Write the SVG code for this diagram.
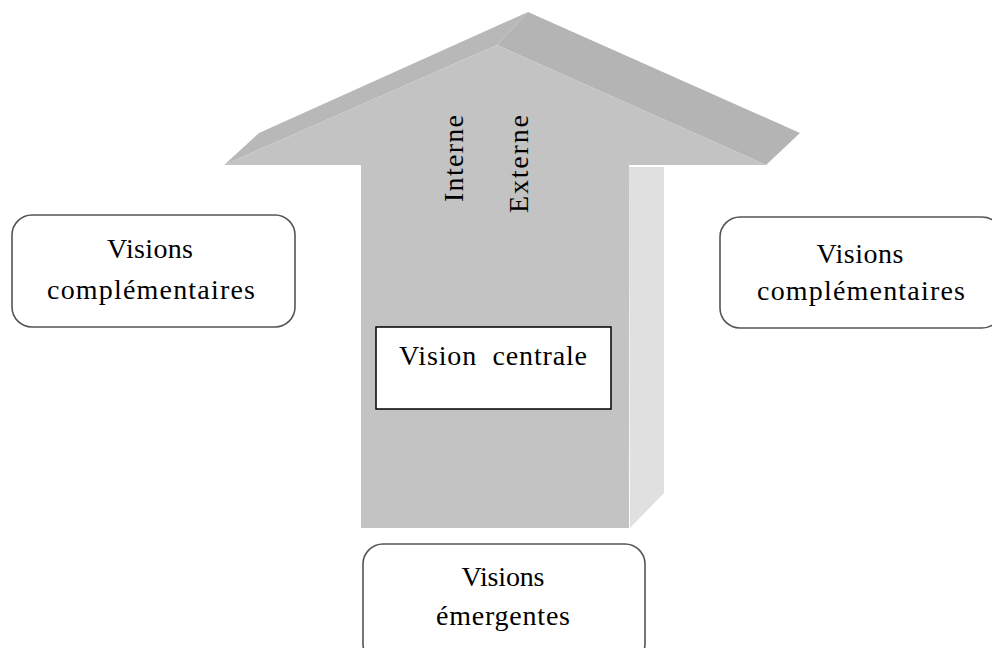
<svg xmlns="http://www.w3.org/2000/svg" width="992" height="648" viewBox="0 0 992 648">
<style>
  text { font-family: "Liberation Serif", "Times New Roman", serif; font-size: 28px; fill: #000; }
  .c { text-anchor: middle; }
  .box { fill: #fff; stroke: #555; stroke-width: 1.6; }
  .front { fill: #c3c3c3; }
  .bevel { fill: #b4b4b4; }
  .bevel2 { fill: #b8b8b8; }
  .side { fill: #e0e0e0; }
</style>
<rect x="0" y="0" width="992" height="648" fill="#fff"/>
<g id="arrow">
  <polygon class="side" points="629,167 664,167 664,493 630,528"/>
  <polygon class="bevel2" points="224,165 259,133 528,12 497,45"/>
  <polygon class="bevel" points="497,45 528,12 800,133 766,165"/>
  <polygon class="front" points="224,165 497,45 766,165 629,165 629,528 361,528 361,165"/>
  <text transform="translate(463,202) rotate(-90)" textLength="87">Interne</text>
  <text transform="translate(528,213) rotate(-90)" textLength="98">Externe</text>
</g>
<g id="connectors"></g>
<g id="vision-centrale">
  <rect x="376" y="327" width="235" height="82" fill="#fff" stroke="#000" stroke-width="1.5"/>
  <text x="493" y="365" class="c" textLength="188" style="white-space:pre">Vision  centrale</text>
</g>
<g id="complementaires-gauche">
  <rect class="box" x="12" y="215" width="283" height="112" rx="20" ry="20"/>
  <text x="150" y="258" class="c" textLength="86">Visions</text>
  <text x="151" y="299" class="c" textLength="208">complémentaires</text>
</g>
<g id="complementaires-droite">
  <rect class="box" x="720" y="217" width="282" height="111" rx="20" ry="20"/>
  <text x="860" y="263" class="c" textLength="87">Visions</text>
  <text x="861" y="300" class="c" textLength="208">complémentaires</text>
</g>
<g id="emergentes">
  <rect class="box" x="363" y="544" width="282" height="120" rx="20" ry="20"/>
  <text x="503" y="586" class="c" textLength="83">Visions</text>
  <text x="503" y="625" class="c" textLength="134">émergentes</text>
</g>
</svg>
